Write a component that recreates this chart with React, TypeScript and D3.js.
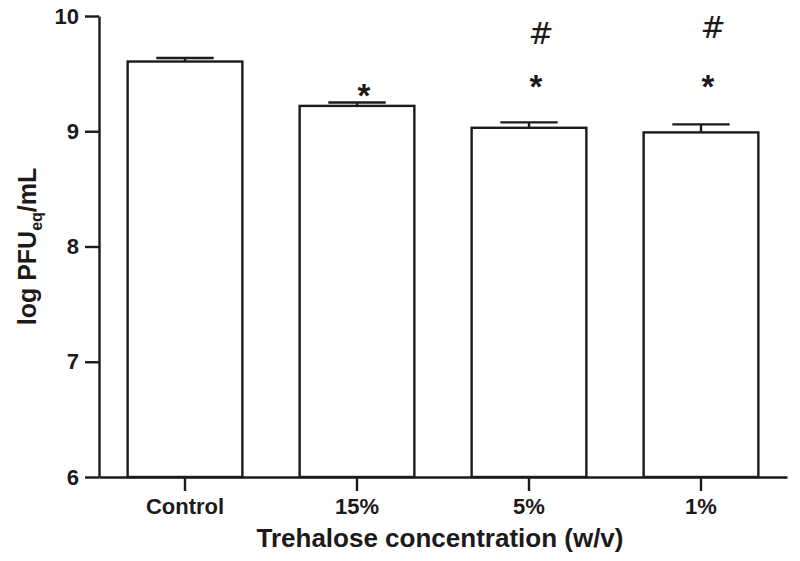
import * as d3 from "d3";
import * as React from "react";

const categories = ["Control", "15%", "5%", "1%"];
const means = [9.605, 9.22, 9.03, 8.99];
const sems = [0.03, 0.03, 0.047, 0.07];
const yTicks = [6, 7, 8, 9, 10];
// significance marks, placed at a data-unit height above each bar
const starLevels = [null, 9.375, 9.45, 9.45];
const hashLevels = [null, null, 9.865, 9.91];

const width = 800;
const height = 561;
const margin = { top: 16, right: 13, bottom: 84, left: 99 };
const ink = "#1c1a1b";
const font = "'Liberation Sans', Arial, Helvetica, sans-serif";

export default function App() {
  const ref = React.useRef<SVGSVGElement>(null);

  React.useEffect(() => {
    const svg = d3.select(ref.current!);
    svg.selectAll("*").remove();

    const x = d3.scaleBand()
      .domain(categories)
      .range([margin.left, width - margin.right])
      .padding(0);

    const y = d3.scaleLinear()
      .domain([6, 10])
      .range([height - margin.bottom, margin.top]);

    const barW = x.bandwidth() * 0.667;

    const rows = categories.map((c, i) => ({
      c, mean: means[i], sem: sems[i], star: starLevels[i], hash: hashLevels[i],
    }));

    // bars
    svg.append("g")
      .selectAll("rect")
      .data(rows)
      .join("rect")
      .attr("x", d => x(d.c)! + (x.bandwidth() - barW) / 2)
      .attr("y", d => y(d.mean))
      .attr("width", barW)
      .attr("height", d => y(6) - y(d.mean))
      .attr("fill", "white")
      .attr("stroke", ink)
      .attr("stroke-width", 2.4);

    // error bars (upper only)
    const err = svg.append("g").attr("stroke", ink).attr("stroke-width", 2.4);
    err.selectAll("line.v")
      .data(rows)
      .join("line")
      .attr("class", "v")
      .attr("x1", d => x(d.c)! + x.bandwidth() / 2)
      .attr("x2", d => x(d.c)! + x.bandwidth() / 2)
      .attr("y1", d => y(d.mean))
      .attr("y2", d => y(d.mean + d.sem));
    err.selectAll("line.cap")
      .data(rows)
      .join("line")
      .attr("class", "cap")
      .attr("x1", d => x(d.c)! + x.bandwidth() / 2 - barW / 4)
      .attr("x2", d => x(d.c)! + x.bandwidth() / 2 + barW / 4)
      .attr("y1", d => y(d.mean + d.sem))
      .attr("y2", d => y(d.mean + d.sem));

    // significance marks
    const marks = svg.append("g").attr("fill", ink).attr("text-anchor", "middle");
    marks.selectAll("text.star")
      .data(rows.filter(d => d.star !== null))
      .join("text")
      .attr("class", "star")
      .attr("x", d => x(d.c)! + x.bandwidth() / 2 + 7)
      .attr("y", d => y(d.star!) + 19)
      .attr("font-family", font)
      .attr("font-weight", "bold")
      .attr("font-size", 33)
      .text("*");
    marks.selectAll("text.hash")
      .data(rows.filter(d => d.hash !== null))
      .join("text")
      .attr("class", "hash")
      .attr("x", d => x(d.c)! + x.bandwidth() / 2 + 12)
      .attr("y", d => y(d.hash!) + 12)
      .attr("font-family", "'DejaVu Sans', sans-serif")
      .attr("font-size", 30)
      .text("#");

    // y axis
    svg.append("g")
      .attr("transform", `translate(${margin.left},0)`)
      .call(d3.axisLeft(y).tickValues(yTicks).tickFormat(d3.format("d")).tickSize(14).tickSizeOuter(0).tickPadding(6))
      .call(g => g.select(".domain").attr("stroke", ink).attr("stroke-width", 2.4))
      .call(g => g.selectAll(".tick line").attr("stroke", ink).attr("stroke-width", 2.4))
      .call(g => g.selectAll(".tick text")
        .attr("fill", ink)
        .attr("font-family", font)
        .attr("font-weight", "bold")
        .attr("font-size", 22));

    // x axis
    svg.append("g")
      .attr("transform", `translate(0,${y(6)})`)
      .call(d3.axisBottom(x).tickSize(14).tickSizeOuter(0).tickPadding(7))
      .call(g => g.select(".domain").attr("stroke", ink).attr("stroke-width", 2.4))
      .call(g => g.selectAll(".tick line").attr("stroke", ink).attr("stroke-width", 2.4))
      .call(g => g.selectAll(".tick text")
        .attr("fill", ink)
        .attr("font-family", font)
        .attr("font-weight", "bold")
        .attr("font-size", 22));

    // axis titles
    svg.append("text")
      .attr("x", (margin.left + width - margin.right) / 2 - 3)
      .attr("y", 547)
      .attr("text-anchor", "middle")
      .attr("fill", ink)
      .attr("font-family", font)
      .attr("font-weight", "bold")
      .attr("font-size", 26)
      .text("Trehalose concentration (w/v)");

    const yl = svg.append("text")
      .attr("transform", `translate(36,${(y(6) + y(10)) / 2}) rotate(-90)`)
      .attr("text-anchor", "middle")
      .attr("fill", ink)
      .attr("font-family", font)
      .attr("font-weight", "bold")
      .attr("font-size", 25);
    yl.append("tspan").text("log PFU");
    yl.append("tspan").attr("font-size", 16).attr("dy", 6).text("eq");
    yl.append("tspan").attr("dy", -6).text("/mL");
  }, []);

  return (
    <svg
      ref={ref}
      width={width}
      height={height}
      style={{ position: "absolute", left: 0, top: 0, background: "white" }}
    />
  );
}
